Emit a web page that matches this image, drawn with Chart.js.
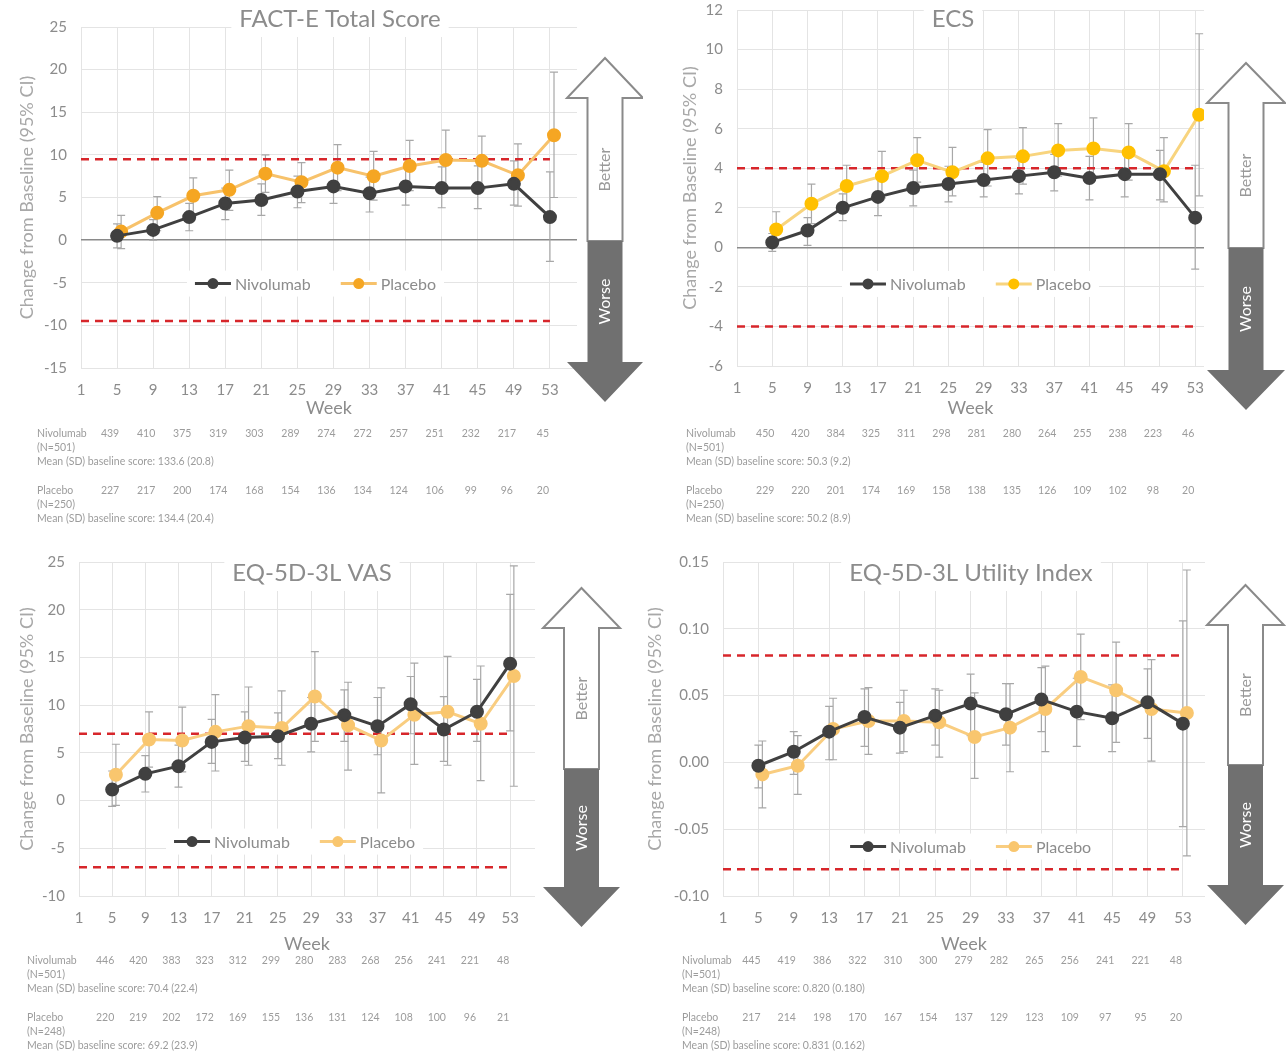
<!DOCTYPE html>
<html>
<head>
<meta charset="utf-8">
<script src="https://cdn.jsdelivr.net/npm/chart.js@4.4.1/dist/chart.umd.min.js"></script>
<style>
body { margin: 0; background: #fff; }
.panel { position: absolute; }
</style>
</head>
<body>
<div class="panel" style="left:0px;top:0px"><canvas id="c1" width="643" height="530"></canvas></div>
<div class="panel" style="left:643px;top:0px"><canvas id="c2" width="643" height="530"></canvas></div>
<div class="panel" style="left:0px;top:530px"><canvas id="c3" width="643" height="524"></canvas></div>
<div class="panel" style="left:643px;top:530px"><canvas id="c4" width="643" height="524"></canvas></div>
<script>
// Data

var weekTicks = [1, 5, 9, 13, 17, 21, 25, 29, 33, 37, 41, 45, 49, 53];
var weeks = [5, 9, 13, 17, 21, 25, 29, 33, 37, 41, 45, 49, 53];
var dodge = 0.45; // placebo points sit a little right of nivolumab

// FACT-E Total Score
var factYTicks = [-15, -10, -5, 0, 5, 10, 15, 20, 25];
var factNivo   = [0.5, 1.2, 2.7, 4.3, 4.7, 5.7, 6.3, 5.5, 6.3, 6.1, 6.1, 6.6, 2.7];
var factNivoLo = [-0.9, 0.0, 1.1, 2.4, 2.9, 3.8, 4.3, 3.3, 4.1, 3.8, 3.7, 4.1, -2.5];
var factNivoHi = [1.9, 2.4, 4.3, 6.1, 6.6, 7.5, 8.2, 7.4, 8.4, 8.6, 8.7, 9.3, 8.0];
var factPbo    = [1.0, 3.2, 5.2, 5.9, 7.8, 6.8, 8.5, 7.5, 8.7, 9.4, 9.3, 7.6, 12.3];
var factPboLo  = [-1.0, 1.1, 3.1, 3.5, 5.6, 4.4, 5.8, 4.7, 5.8, 6.0, 6.0, 4.0, 5.0];
var factPboHi  = [2.9, 5.1, 7.3, 8.2, 10.0, 9.1, 11.2, 10.4, 11.7, 12.9, 12.2, 11.3, 19.7];
var factMid = 9.5;
var factNivoN = [439, 410, 375, 319, 303, 289, 274, 272, 257, 251, 232, 217, 45];
var factPboN  = [227, 217, 200, 174, 168, 154, 136, 134, 124, 106, 99, 96, 20];
var factNote = ["(N=501)", "Mean (SD) baseline score: 133.6 (20.8)", "(N=250)", "Mean (SD) baseline score: 134.4 (20.4)"];

// ECS
var ecsYTicks = [-6, -4, -2, 0, 2, 4, 6, 8, 10, 12];
var ecsNivo   = [0.25, 0.85, 2.0, 2.55, 3.0, 3.2, 3.4, 3.6, 3.8, 3.5, 3.7, 3.7, 1.5];
var ecsNivoLo = [-0.2, 0.1, 1.35, 1.6, 2.1, 2.3, 2.55, 2.7, 2.85, 2.4, 2.55, 2.4, -1.1];
var ecsNivoHi = [0.7, 1.5, 2.7, 3.5, 3.9, 4.1, 4.3, 4.5, 4.7, 4.6, 4.8, 4.9, 4.15];
var ecsPbo    = [0.9, 2.2, 3.1, 3.6, 4.4, 3.8, 4.5, 4.6, 4.9, 5.0, 4.8, 3.85, 6.7];
var ecsPboLo  = [0.0, 1.2, 2.1, 2.5, 3.3, 2.6, 3.1, 3.2, 3.6, 3.6, 3.4, 2.3, 2.6];
var ecsPboHi  = [1.8, 3.2, 4.15, 4.85, 5.55, 5.05, 5.95, 6.05, 6.25, 6.55, 6.25, 5.55, 10.8];
var ecsMid = 4;
var ecsNivoN = [450, 420, 384, 325, 311, 298, 281, 280, 264, 255, 238, 223, 46];
var ecsPboN  = [229, 220, 201, 174, 169, 158, 138, 135, 126, 109, 102, 98, 20];
var ecsNote = ["(N=501)", "Mean (SD) baseline score: 50.3 (9.2)", "(N=250)", "Mean (SD) baseline score: 50.2 (8.9)"];

// EQ-5D-3L VAS
var vasYTicks = [-10, -5, 0, 5, 10, 15, 20, 25];
var vasNivo   = [1.15, 2.8, 3.6, 6.15, 6.6, 6.75, 8.05, 8.95, 7.8, 10.1, 7.45, 9.3, 14.35];
var vasNivoLo = [-0.6, 0.9, 1.4, 3.9, 4.1, 4.4, 5.1, 6.2, 4.8, 7.0, 4.1, 6.2, 7.3];
var vasNivoHi = [3.1, 4.7, 5.8, 8.5, 9.3, 9.2, 10.8, 11.6, 10.8, 13.0, 10.9, 12.7, 21.6];
var vasPbo    = [2.7, 6.4, 6.3, 7.2, 7.8, 7.6, 10.9, 7.9, 6.3, 9.0, 9.3, 8.05, 13.05];
var vasPboLo  = [-0.5, 3.5, 3.0, 3.1, 3.7, 3.7, 6.2, 3.2, 0.8, 3.8, 3.7, 2.1, 1.5];
var vasPboHi  = [5.9, 9.3, 9.8, 11.1, 11.9, 11.5, 15.6, 12.4, 11.8, 14.4, 15.1, 14.1, 24.6];
var vasMid = 7;
var vasNivoN = [446, 420, 383, 323, 312, 299, 280, 283, 268, 256, 241, 221, 48];
var vasPboN  = [220, 219, 202, 172, 169, 155, 136, 131, 124, 108, 100, 96, 21];
var vasNote = ["(N=501)", "Mean (SD) baseline score: 70.4 (22.4)", "(N=248)", "Mean (SD) baseline score: 69.2 (23.9)"];

// EQ-5D-3L Utility Index
var uiYTicks = [-0.10, -0.05, 0, 0.05, 0.10, 0.15];
var uiNivo   = [-0.0025, 0.008, 0.023, 0.034, 0.026, 0.035, 0.044, 0.036, 0.047, 0.038, 0.033, 0.045, 0.029];
var uiNivoLo = [-0.019, -0.009, 0.002, 0.012, 0.007, 0.013, 0.020, 0.013, 0.023, 0.012, 0.008, 0.018, -0.048];
var uiNivoHi = [0.013, 0.023, 0.042, 0.055, 0.045, 0.055, 0.066, 0.059, 0.071, 0.063, 0.058, 0.070, 0.106];
var uiPbo    = [-0.009, -0.0025, 0.025, 0.031, 0.031, 0.030, 0.019, 0.026, 0.040, 0.064, 0.054, 0.040, 0.037];
var uiPboLo  = [-0.034, -0.024, 0.002, 0.006, 0.008, 0.004, -0.012, -0.007, 0.008, 0.032, 0.015, 0.001, -0.070];
var uiPboHi  = [0.016, 0.020, 0.048, 0.056, 0.054, 0.054, 0.052, 0.059, 0.072, 0.096, 0.090, 0.077, 0.144];
var uiMid = 0.08;
var uiNivoN = [445, 419, 386, 322, 310, 300, 279, 282, 265, 256, 241, 221, 48];
var uiPboN  = [217, 214, 198, 170, 167, 154, 137, 129, 123, 109, 97, 95, 20];
var uiNote = ["(N=501)", "Mean (SD) baseline score: 0.820 (0.180)", "(N=248)", "Mean (SD) baseline score: 0.831 (0.162)"];

// Drawing helpers

var FONT = "Lato, 'Open Sans', sans-serif";
var NIVO_COL = "#404040";

function to_points(xs, ys, shift) {
	var pts = [];
	for (var i = 0; i < xs.length; i++) {
		pts.push({x: xs[i] + shift, y: ys[i]});
		}
	return pts;
	}

function draw_error_bars(chart) {
	var ctx = chart.ctx;
	var xs = chart.scales.x, ys = chart.scales.y;
	ctx.save();
	ctx.strokeStyle = "#a8a8a8";
	ctx.lineWidth = 1.2;
	for (var d = 0; d < 2; d++) {
		var ds = chart.data.datasets[d];
		for (var i = 0; i < ds.data.length; i++) {
			var x = xs.getPixelForValue(ds.data[i].x);
			var y1 = ys.getPixelForValue(ds.errLo[i]);
			var y2 = ys.getPixelForValue(ds.errHi[i]);
			ctx.beginPath();
			ctx.moveTo(x, y1); ctx.lineTo(x, y2);
			ctx.moveTo(x - 4, y1); ctx.lineTo(x + 4, y1);
			ctx.moveTo(x - 4, y2); ctx.lineTo(x + 4, y2);
			ctx.stroke();
			}
		}
	ctx.restore();
	}

function draw_title(chart, p) {
	var ctx = chart.ctx;
	ctx.save();
	ctx.font = "24px " + FONT;
	var w = ctx.measureText(p.title).width + 16;
	ctx.fillStyle = "#fff";
	ctx.fillRect(p.titleX - w / 2, p.titleY - 19, w, 37);
	ctx.fillStyle = "#8c8c8c";
	ctx.textAlign = "center";
	ctx.textBaseline = "middle";
	ctx.fillText(p.title, p.titleX, p.titleY);
	ctx.restore();
	}

function draw_legend(chart, p) {
	var ctx = chart.ctx;
	var seg = 36, gap = 4, between = 30;
	ctx.save();
	ctx.font = "16px " + FONT;
	var items = [chart.data.datasets[0], chart.data.datasets[1]];
	var total = 0;
	for (var i = 0; i < items.length; i++) {
		total += seg + gap + ctx.measureText(items[i].label).width;
		}
	total += between;
	var cx = chart.scales.x.getPixelForValue(p.legendX);
	var cy = chart.scales.y.getPixelForValue(p.legendY);
	var x = cx - total / 2;
	ctx.fillStyle = "#fff";
	ctx.fillRect(x - 8, cy - 13, total + 16, 26);
	for (var i = 0; i < items.length; i++) {
		var it = items[i];
		ctx.strokeStyle = it.borderColor;
		ctx.lineWidth = 3;
		ctx.beginPath();
		ctx.moveTo(x, cy); ctx.lineTo(x + seg, cy);
		ctx.stroke();
		ctx.fillStyle = it.pointBackgroundColor;
		ctx.beginPath();
		ctx.arc(x + seg / 2, cy, 5.5, 0, Math.PI * 2);
		ctx.fill();
		ctx.fillStyle = "#8c8c8c";
		ctx.textAlign = "left";
		ctx.textBaseline = "middle";
		ctx.fillText(it.label, x + seg + gap, cy + 1);
		x += seg + gap + ctx.measureText(it.label).width + between;
		}
	ctx.restore();
	}

function draw_arrow(chart, a) {
	var ctx = chart.ctx;
	var headH = 40, sw = 35;
	var cx = a.x + a.w / 2;
	ctx.save();
	// upper part, white with grey outline
	ctx.beginPath();
	ctx.moveTo(cx, a.top);
	ctx.lineTo(a.x + a.w, a.top + headH);
	ctx.lineTo(cx + sw / 2, a.top + headH);
	ctx.lineTo(cx + sw / 2, a.split);
	ctx.lineTo(cx - sw / 2, a.split);
	ctx.lineTo(cx - sw / 2, a.top + headH);
	ctx.lineTo(a.x, a.top + headH);
	ctx.closePath();
	ctx.fillStyle = "#fff";
	ctx.fill();
	ctx.strokeStyle = "#8a8a8a";
	ctx.lineWidth = 2;
	ctx.stroke();
	// lower part, solid grey
	ctx.beginPath();
	ctx.moveTo(cx - sw / 2, a.split);
	ctx.lineTo(cx + sw / 2, a.split);
	ctx.lineTo(cx + sw / 2, a.bottom - headH);
	ctx.lineTo(a.x + a.w, a.bottom - headH);
	ctx.lineTo(cx, a.bottom);
	ctx.lineTo(a.x, a.bottom - headH);
	ctx.lineTo(cx - sw / 2, a.bottom - headH);
	ctx.closePath();
	ctx.fillStyle = "#707070";
	ctx.fill();
	// labels
	ctx.font = "16px " + FONT;
	ctx.textAlign = "center";
	ctx.textBaseline = "middle";
	ctx.translate(cx, (a.top + headH + a.split) / 2);
	ctx.rotate(-Math.PI / 2);
	ctx.fillStyle = "#999";
	ctx.fillText("Better", 0, 0);
	ctx.restore();
	ctx.save();
	ctx.font = "16px " + FONT;
	ctx.textAlign = "center";
	ctx.textBaseline = "middle";
	ctx.translate(cx, (a.split + a.bottom - headH) / 2);
	ctx.rotate(-Math.PI / 2);
	ctx.fillStyle = "#fff";
	ctx.fillText("Worse", 0, 0);
	ctx.restore();
	}

function draw_table(chart, p) {
	var ctx = chart.ctx;
	var xs = chart.scales.x;
	var rows = [
		[chart.data.datasets[0].label, p.nivoN, p.note[0], p.note[1]],
		[chart.data.datasets[1].label, p.pboN, p.note[2], p.note[3]]
		];
	ctx.save();
	ctx.font = "10.5px " + FONT;
	ctx.fillStyle = "#9c9c9c";
	ctx.textBaseline = "middle";
	for (var r = 0; r < rows.length; r++) {
		var y = p.tableY + r * 57;
		ctx.textAlign = "left";
		ctx.fillText(rows[r][0], p.tableX, y);
		ctx.fillText(rows[r][2], p.tableX, y + 14);
		ctx.fillText(rows[r][3], p.tableX, y + 28);
		ctx.textAlign = "center";
		for (var i = 0; i < weeks.length; i++) {
			ctx.fillText(String(rows[r][1][i]), xs.getPixelForValue(weeks[i]) - 7, y);
			}
		}
	ctx.restore();
	}

function deco_plugin(p) {
	return {
		id: "deco",
		beforeDatasetsDraw: function(chart) {
			draw_title(chart, p);
			draw_legend(chart, p);
			draw_error_bars(chart);
			},
		afterDraw: function(chart) {
			draw_arrow(chart, p.arrow);
			draw_table(chart, p);
			}
		};
	}

// Chart Initialization

function new_panel(id, p) {
	var yt = p.yTicks;
	var ctx = document.getElementById(id).getContext("2d");
	return new Chart(ctx, {
		type: "line",
		data: {
			datasets: [{
				label: "Nivolumab",
				data: to_points(weeks, p.nivo, 0),
				errLo: p.nivoLo,
				errHi: p.nivoHi,
				borderColor: NIVO_COL,
				backgroundColor: NIVO_COL,
				pointBackgroundColor: NIVO_COL,
				pointBorderColor: NIVO_COL,
				borderWidth: 3,
				pointRadius: 5.5,
				order: 1
				},
				{
				label: "Placebo",
				data: to_points(weeks, p.pbo, dodge),
				errLo: p.pboLo,
				errHi: p.pboHi,
				borderColor: p.pboLine,
				backgroundColor: p.pboDot,
				pointBackgroundColor: p.pboDot,
				pointBorderColor: p.pboDot,
				borderWidth: 3,
				pointRadius: 5.5,
				order: 2
				},
				{
				label: "upper MID",
				data: [{x: weekTicks[0], y: p.mid}, {x: weeks[weeks.length - 1], y: p.mid}],
				borderColor: "#d7262b",
				borderDash: [8, 6],
				borderWidth: 2.5,
				pointRadius: 0,
				order: 3
				},
				{
				label: "lower MID",
				data: [{x: weekTicks[0], y: -p.mid}, {x: weeks[weeks.length - 1], y: -p.mid}],
				borderColor: "#d7262b",
				borderDash: [8, 6],
				borderWidth: 2.5,
				pointRadius: 0,
				order: 3
				}]
			},
		options: {
			responsive: false,
			animation: false,
			layout: { padding: p.pad },
			plugins: {
				legend: { display: false },
				tooltip: { enabled: false }
				},
			scales: {
				x: {
					type: "linear",
					min: weekTicks[0],
					max: p.xMax,
					afterBuildTicks: function(axis) {
						axis.ticks = weekTicks.map(function(v) { return {value: v}; });
						},
					afterFit: function(axis) { axis.height = p.xHeight; },
					ticks: {
						color: "#8c8c8c",
						font: { family: FONT, size: 15 },
						padding: 13,
						maxRotation: 0,
						autoSkip: false
						},
					grid: { color: "#e4e4e4", drawTicks: false },
					border: { display: false },
					title: {
						display: true,
						text: "Week",
						color: "#8c8c8c",
						font: { family: FONT, size: 18 },
						padding: 0
						}
					},
				y: {
					type: "linear",
					min: yt[0],
					max: yt[yt.length - 1],
					afterBuildTicks: function(axis) {
						axis.ticks = yt.map(function(v) { return {value: v}; });
						},
					afterFit: function(axis) {
						axis.width = p.yWidth;
						// keep the plot top where the layout padding puts it
						axis.paddingTop = 0;
						axis.paddingBottom = 0;
						},
					ticks: {
						color: "#8c8c8c",
						font: { family: FONT, size: 15 },
						padding: 14,
						callback: function(v) { return p.dec ? Number(v).toFixed(p.dec) : v; }
						},
					grid: {
						drawTicks: false,
						color: function(c) {
							return (p.darkZero && c.tick && c.tick.value === 0) ? "#8a8a8a" : "#e4e4e4";
							},
						lineWidth: function(c) {
							return (p.darkZero && c.tick && c.tick.value === 0) ? 1.6 : 1;
							}
						},
					border: { display: false },
					title: {
						display: true,
						text: "Change from Baseline (95% CI)",
						color: "#a8a8a8",
						font: { family: FONT, size: 18 },
						padding: 0
						}
					}
				}
			},
		plugins: [deco_plugin(p)]
		});
	}

new_panel("c1", {
	nivo: factNivo, nivoLo: factNivoLo, nivoHi: factNivoHi,
	pbo: factPbo, pboLo: factPboLo, pboHi: factPboHi,
	nivoN: factNivoN, pboN: factPboN, note: factNote,
	yTicks: factYTicks, mid: factMid, dec: 0, darkZero: true, xMax: 56,
	pboLine: "#f7c26b", pboDot: "#f5a623",
	pad: {left: 16, top: 27, right: 66, bottom: 111}, yWidth: 65, xHeight: 51,
	title: "FACT-E Total Score", titleX: 340, titleY: 19,
	legendX: 27, legendY: -5.1,
	arrow: {x: 567, w: 76, top: 58, bottom: 402, split: 241},
	tableX: 37, tableY: 434
	});

new_panel("c2", {
	nivo: ecsNivo, nivoLo: ecsNivoLo, nivoHi: ecsNivoHi,
	pbo: ecsPbo, pboLo: ecsPboLo, pboHi: ecsPboHi,
	nivoN: ecsNivoN, pboN: ecsPboN, note: ecsNote,
	yTicks: ecsYTicks, mid: ecsMid, dec: 0, darkZero: true, xMax: 54,
	pboLine: "#f8d47e", pboDot: "#ffc000",
	pad: {left: 36, top: 10, right: 82, bottom: 111}, yWidth: 58, xHeight: 53,
	title: "ECS", titleX: 310, titleY: 19,
	legendX: 27.5, legendY: -1.85,
	arrow: {x: 564, w: 78, top: 63, bottom: 410, split: 248},
	tableX: 43, tableY: 434
	});

new_panel("c3", {
	nivo: vasNivo, nivoLo: vasNivoLo, nivoHi: vasNivoHi,
	pbo: vasPbo, pboLo: vasPboLo, pboHi: vasPboHi,
	nivoN: vasNivoN, pboN: vasPboN, note: vasNote,
	yTicks: vasYTicks, mid: vasMid, dec: 0, darkZero: false, xMax: 56,
	pboLine: "#f9cd80", pboDot: "#f9c66e",
	pad: {left: 16, top: 32, right: 108, bottom: 99}, yWidth: 63, xHeight: 59,
	title: "EQ-5D-3L VAS", titleX: 312, titleY: 43,
	legendX: 27, legendY: -4.3,
	arrow: {x: 543, w: 77, top: 58, bottom: 397, split: 239},
	tableX: 27, tableY: 431
	});

new_panel("c4", {
	nivo: uiNivo, nivoLo: uiNivoLo, nivoHi: uiNivoHi,
	pbo: uiPbo, pboLo: uiPboLo, pboHi: uiPboHi,
	nivoN: uiNivoN, pboN: uiPboN, note: uiNote,
	yTicks: uiYTicks, mid: uiMid, dec: 2, darkZero: false, xMax: 55.5,
	pboLine: "#f9cd80", pboDot: "#f9c66e",
	pad: {left: 1, top: 32, right: 81, bottom: 99}, yWidth: 79, xHeight: 59,
	title: "EQ-5D-3L Utility Index", titleX: 328, titleY: 43,
	legendX: 29, legendY: -0.063,
	arrow: {x: 564, w: 77, top: 55, bottom: 395, split: 235},
	tableX: 39, tableY: 431
	});
</script>
</body>
</html>
